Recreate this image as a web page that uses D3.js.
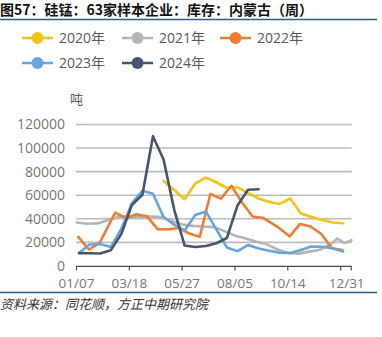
<!DOCTYPE html>
<html>
<head>
<meta charset="utf-8">
<script src="https://cdn.jsdelivr.net/npm/d3@7"></script>
<style>
  html, body { margin: 0; padding: 0; background: #fff; }
  svg { display: block; font-family: "Open Sans", "Noto Sans CJK SC", sans-serif; }
</style>
</head>
<body>
<svg id="chart" width="382" height="337"></svg>
<script>
// ---- text ----
const titleText = "图57：硅锰：63家样本企业：库存：内蒙古（周）";
const sourceText = "资料来源：同花顺，方正中期研究院";
const unitText = "吨";

// ---- axes ----
const yTickValues = [0, 20000, 40000, 60000, 80000, 100000, 120000];
const xTickDates = ["01/07", "03/18", "05/27", "08/05", "10/14", "12/23"];
const xLabelDates = ["01/07", "03/18", "05/27", "08/05", "10/14", "12/31"];

// ---- series (inventory, tonnes; dates as MM/DD on a common calendar) ----
const seriesNames = ["2020年", "2021年", "2022年", "2023年", "2024年"];
const seriesColors = ["#f3c316", "#b5b5b5", "#ee7d31", "#68a5dc", "#47566e"];

const dates2020 = ["05/03","05/17","05/31","06/14","06/28","07/12","07/26","08/09","08/23",
  "09/06","09/20","10/04","10/18","11/01","11/15","11/29","12/13","12/27"];
const values2020 = [72100, 64400, 56600, 70000, 74900, 71000, 66100, 66700, 61900,
  57200, 54300, 52600, 57200, 44500, 41500, 39000, 36800, 36200];

const dates2021 = ["01/08","01/22","02/05","02/19","03/05","03/19","04/02","04/16","04/30",
  "05/14","05/28","06/11","06/25","07/09","07/23","08/06","08/20","09/03","09/17","10/01",
  "10/15","10/29","11/12","11/26","12/10","12/19","12/29","01/07"];
const values2021 = [36800, 35800, 36100, 39000, 41800, 41800, 41300, 41900, 41500,
  38100, 35100, 34000, 33400, 32900, 29500, 25600, 23300, 20500, 18300, 13900,
  11000, 10400, 12100, 13700, 18200, 23100, 19400, 21800];

const dates2022 = ["01/10","01/24","02/07","02/14","02/28","03/14","03/28","04/11","04/25",
  "05/09","05/23","06/06","06/20","07/04","07/18","08/01","08/15","08/29","09/12","10/03",
  "10/17","10/31","11/14","11/28","12/12","12/26"];
const values2022 = [24700, 13900, 19300, 27800, 45300, 40500, 43900, 42200, 31200,
  30900, 32200, 27500, 24700, 61000, 57100, 68000, 53800, 41900, 40700, 32200,
  25100, 35600, 33400, 27100, 15000, 13500];

const dates2023 = ["01/11","01/25","02/08","02/22","03/08","03/22","04/05","04/19","05/03",
  "05/17","05/31","06/14","06/28","07/12","07/26","08/09","08/23","09/06","09/20","10/04",
  "10/18","11/01","11/15","11/29","12/13","12/27"];
const values2023 = [11000, 18200, 18600, 16000, 31300, 53000, 63800, 61300, 41500,
  35000, 30000, 43200, 46200, 31000, 15600, 12500, 17700, 14800, 12900, 11200,
  11000, 13500, 16500, 16300, 15000, 12200];

const dates2024 = ["01/11","01/25","02/08","02/22","03/08","03/22","04/05","04/19","05/03",
  "05/17","05/31","06/14","06/28","07/12","07/26","08/09","08/23","09/06"];
const values2024 = [10800, 10700, 10500, 13200, 27000, 51700, 60400, 110100, 90300,
  48000, 17300, 16000, 16900, 19200, 23700, 51300, 64600, 65100];

const seriesDates = [dates2020, dates2021, dates2022, dates2023, dates2024];
const seriesValues = [values2020, values2021, values2022, values2023, values2024];

// ---- setup ----
const svg = d3.select("#chart");
const parseMD = d3.timeParse("%m/%d");

// Turn MM/DD strings into dates; a date earlier than its predecessor rolls into the next year.
function toDates(list) {
  let prev = null;
  return list.map(s => {
    let d = parseMD(s);
    if (prev && d < prev) d = d3.timeYear.offset(d, 1);
    prev = d;
    return d;
  });
}

const plotLeft = 76, plotRight = 350.7, plotTop = 124.5, plotBottom = 265.9;

const x = d3.scaleTime()
  .domain([parseMD("01/07"), d3.timeYear.offset(parseMD("01/06"), 1)])
  .range([plotLeft, plotRight]);

const y = d3.scaleLinear()
  .domain([0, 120000])
  .range([plotBottom, plotTop]);

// ---- title & rules ----
svg.append("text")
  .attr("x", 0).attr("y", 14.5)
  .attr("font-family", "'Noto Sans CJK SC', sans-serif")
  .attr("font-size", 14).attr("font-weight", 700)
  .attr("fill", "#111")
  .text(titleText);

svg.append("line")
  .attr("x1", 0).attr("x2", 377).attr("y1", 19.5).attr("y2", 19.5)
  .attr("stroke", "#2e5b8a").attr("stroke-width", 1.5);

svg.append("line")
  .attr("x1", 0).attr("x2", 377).attr("y1", 292.5).attr("y2", 292.5)
  .attr("stroke", "#2e5b8a").attr("stroke-width", 1.5);

svg.append("text")
  .attr("x", 0).attr("y", 309)
  .attr("font-family", "'Noto Sans CJK SC', sans-serif")
  .attr("font-size", 13).attr("font-style", "italic")
  .attr("fill", "#333")
  .text(sourceText);

// ---- legend ----
const legendCols = [22, 122, 220];
const legendRows = [38, 63];
const legend = svg.append("g");
seriesNames.forEach((name, i) => {
  const lx = legendCols[i % 3], ly = legendRows[Math.floor(i / 3)];
  const g = legend.append("g").attr("transform", `translate(${lx},${ly})`);
  g.append("line").attr("x1", 0).attr("x2", 31).attr("y1", 0).attr("y2", 0)
    .attr("stroke", seriesColors[i]).attr("stroke-width", 2.5);
  g.append("circle").attr("cx", 15.5).attr("cy", 0).attr("r", 6)
    .attr("fill", seriesColors[i]);
  g.append("text").attr("x", 37).attr("y", 0).attr("dy", "0.36em")
    .attr("font-size", 14).attr("fill", "#595959")
    .text(name);
});

// ---- unit ----
svg.append("text")
  .attr("x", 76.5).attr("y", 104)
  .attr("text-anchor", "middle")
  .attr("font-family", "'Noto Sans CJK SC', sans-serif")
  .attr("font-size", 13).attr("fill", "#595959")
  .text(unitText);

// ---- gridlines ----
svg.append("g")
  .selectAll("line")
  .data(yTickValues.filter(v => v > 0))
  .join("line")
  .attr("x1", plotLeft).attr("x2", plotRight + 1)
  .attr("y1", d => y(d)).attr("y2", d => y(d))
  .attr("stroke", "#bdbdbd").attr("stroke-width", 1.6);

// ---- y axis labels ----
const yAxis = svg.append("g")
  .attr("transform", `translate(${plotLeft - 11},0)`)
  .call(d3.axisLeft(y).tickValues(yTickValues).tickSize(0).tickPadding(0).tickFormat(d3.format("d")));
yAxis.select(".domain").remove();
yAxis.selectAll("text").attr("font-size", 14).attr("fill", "#767676")
  .attr("font-family", "'Open Sans', sans-serif");

// ---- x axis: tick marks ----
const xTicks = toDates(xTickDates).concat([x.domain()[1]]);
const xAxisTicks = svg.append("g")
  .attr("transform", `translate(0,${plotBottom})`)
  .call(d3.axisBottom(x).tickValues(xTicks).tickSize(4.5).tickSizeOuter(0).tickFormat(""));
xAxisTicks.select(".domain").attr("stroke", "#4a4a4a").attr("stroke-width", 1.2);
xAxisTicks.selectAll(".tick line").attr("stroke", "#4a4a4a").attr("stroke-width", 1.2);

// ---- x axis: labels ----
const xLabelParsed = toDates(xLabelDates);
const xAxisLabels = svg.append("g")
  .attr("transform", `translate(0,${plotBottom})`)
  .call(d3.axisBottom(x).tickValues(xLabelParsed).tickSize(0).tickPadding(0)
    .tickFormat((d, i) => xLabelDates[i]));
xAxisLabels.select(".domain").remove();
xAxisLabels.selectAll("text")
  .attr("y", 22.5).attr("dy", null)
  .attr("font-size", 13.5).attr("fill", "#767676")
  .attr("font-family", "'Open Sans', sans-serif");

// ---- lines ----
const line = d3.line()
  .x(d => x(d.date))
  .y(d => y(d.value));

seriesNames.forEach((name, i) => {
  const dts = toDates(seriesDates[i]);
  const pts = seriesValues[i].map((v, j) => ({ date: dts[j], value: v }));
  svg.append("path")
    .datum(pts)
    .attr("fill", "none")
    .attr("stroke", seriesColors[i])
    .attr("stroke-width", 2.6)
    .attr("stroke-linejoin", "round")
    .attr("stroke-linecap", "round")
    .attr("d", line);
});
</script>
</body>
</html>
